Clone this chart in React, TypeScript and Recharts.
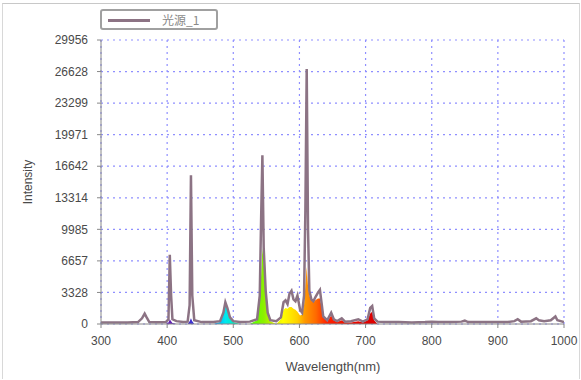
import React from 'react';
import { ComposedChart, Area, Line, XAxis, YAxis, CartesianGrid } from 'recharts';

const wavelengths = [300, 320, 340, 356, 362, 366, 369, 373, 385, 398, 402, 404, 406, 408, 414, 424, 431, 434, 436, 438, 441, 452, 470, 480, 485, 488, 491, 495, 500, 510, 525, 536, 540, 542, 544, 546, 549, 552, 556, 565, 572, 576, 579, 582, 585, 588, 591, 594, 597, 601, 604, 607, 609, 611, 613, 615, 618, 621, 624, 628, 631, 633, 636, 642, 648, 652, 657, 664, 669, 678, 689, 696, 703, 707, 710, 713, 718, 730, 750, 770, 790, 800, 810, 830, 845, 850, 855, 870, 890, 900, 915, 925, 930, 935, 950, 958, 962, 970, 980, 987, 990, 995, 1000];

const intensity = [150, 160, 170, 200, 600, 1100, 700, 200, 180, 200, 500, 7300, 3000, 500, 300, 200, 250, 2000, 15700, 3000, 400, 200, 200, 300, 1200, 2300, 1700, 700, 300, 200, 250, 500, 3000, 10800, 17800, 8000, 3500, 1200, 400, 300, 700, 2300, 2500, 2100, 3200, 3500, 2600, 2400, 3000, 1500, 1200, 3000, 12000, 26900, 10000, 3500, 2600, 2400, 2800, 3300, 3600, 2500, 800, 400, 1200, 500, 300, 600, 250, 300, 500, 250, 500, 1700, 1900, 600, 250, 200, 200, 150, 200, 250, 200, 200, 250, 350, 200, 200, 200, 200, 200, 300, 500, 250, 300, 600, 400, 300, 400, 800, 400, 300, 200];

const fillLevel = [0, 0, 0, 0, 0, 0, 0, 0, 0, 0, 150, 500, 300, 100, 0, 0, 0, 300, 600, 300, 0, 0, 0, 200, 1100, 2200, 1600, 600, 200, 0, 0, 400, 2500, 5000, 8000, 6500, 3000, 1100, 300, 0, 500, 1500, 1700, 1600, 1800, 1800, 1600, 1500, 1300, 900, 1000, 2000, 4000, 6000, 4000, 3000, 2500, 2300, 2500, 2700, 2700, 2000, 700, 300, 900, 400, 200, 400, 150, 150, 300, 150, 400, 1100, 1300, 400, 0, 0, 0, 0, 0, 0, 0, 0, 0, 0, 0, 0, 0, 0, 0, 0, 0, 0, 0, 0, 0, 0, 0, 0, 0, 0, 0];

const xTicks = [300, 400, 500, 600, 700, 800, 900, 1000];
const yTicks = [0, 3328, 6657, 9985, 13314, 16642, 19971, 23299, 26628, 29956];
const xMinorTicks = Array.from({ length: 36 }, (_, i) => 300 + i * 20);
const yMinorTicks = Array.from({ length: 46 }, (_, i) => (29956 / 45) * i);
const seriesName = '光源_1';

const spectrumStops: [number, string][] = [
  [300, '#5a1a8a'], [400, '#6a1fb0'], [436, '#4030d0'], [470, '#0090ff'], [488, '#00e8f0'],
  [510, '#00f0a0'], [530, '#60ff00'], [546, '#8cf000'], [562, '#d8f000'], [575, '#ffff00'],
  [597, '#ffd000'], [608, '#ff9a00'], [625, '#ff6a00'], [642, '#ff2000'], [700, '#e00000'], [1000, '#c00000'],
];

const data = wavelengths.map((w, i) => ({ w, v: intensity[i], f: fillLevel[i] }));

const font = '"Liberation Sans", Arial, sans-serif';
const tickStyle = { fontSize: 12, fill: '#4a4a4a', fontFamily: font };
const lineColor = '#8c7384';
const frameColor = '#888';

export default function App() {
  return (
    <div style={{ position: 'fixed', left: 0, top: 0, width: 581, height: 380, background: '#fff' }}>
      <div style={{ position: 'absolute', left: 2, top: 3, width: 576, height: 375, borderTop: '1px solid #c8c8c8', borderLeft: '1px solid #d8d8d8', borderRight: '1px solid #d8d8d8' }} />
      <ComposedChart width={581} height={380} data={data} margin={{ top: 40, right: 17, bottom: 0, left: 0 }}>
        <defs>
          <linearGradient id="spec" x1="0" y1="0" x2="1" y2="0">
            {spectrumStops.map(([nm, c]) => (
              <stop key={nm} offset={(nm - 300) / 700} stopColor={c} />
            ))}
          </linearGradient>
        </defs>
        <CartesianGrid stroke="#8f8fff" strokeDasharray="2 4" strokeWidth={1.2} />
        <XAxis dataKey="w" type="number" domain={[300, 1000]} ticks={xTicks} height={56} tick={tickStyle}
          tickSize={4} tickMargin={8} stroke={frameColor} interval={0} allowDataOverflow />
        <XAxis xAxisId="bm" dataKey="w" type="number" domain={[300, 1000]} ticks={xMinorTicks} height={0}
          tickFormatter={() => ''} tickSize={3} axisLine={false} stroke={frameColor} interval={0} allowDataOverflow />
        <XAxis xAxisId="top" orientation="top" dataKey="w" type="number" domain={[300, 1000]} ticks={xMinorTicks} height={0}
          tickFormatter={() => ''} tickSize={3} stroke={frameColor} interval={0} allowDataOverflow />
        <YAxis yAxisId="lm" type="number" domain={[0, 29956]} ticks={yMinorTicks} width={0}
          tickFormatter={() => ''} tickSize={3} axisLine={false} stroke={frameColor} interval={0} allowDataOverflow />
        <YAxis type="number" domain={[0, 29956]} ticks={yTicks} width={101} tick={tickStyle}
          tickSize={4} tickMargin={9} stroke={frameColor} interval={0} allowDataOverflow />
        <YAxis yAxisId="right" orientation="right" type="number" domain={[0, 29956]} ticks={yMinorTicks} width={0}
          tickFormatter={() => ''} tickSize={3} stroke={frameColor} interval={0} allowDataOverflow />
        <Area dataKey="f" type="linear" stroke="none" fill="url(#spec)" fillOpacity={1} isAnimationActive={false} />
        <Line dataKey="v" type="linear" stroke={lineColor} strokeWidth={2.5} dot={false} isAnimationActive={false} name={seriesName} />
      </ComposedChart>
      <div style={{ position: 'absolute', left: 100, top: 9, width: 114, height: 17, border: '2px solid #a0a0a0', borderRadius: 3, boxSizing: 'content-box' }}>
        <div style={{ position: 'absolute', left: 6, top: 8, width: 42, height: 3, background: lineColor }} />
        <div style={{ position: 'absolute', left: 60, top: 0, fontSize: 12, lineHeight: '17px', color: '#8a8a8a', fontFamily: '"Noto Sans CJK SC", sans-serif' }}>{seriesName}</div>
      </div>
      <div style={{ position: 'absolute', left: 28, top: 182, transform: 'translate(-50%, -50%) rotate(-90deg)', fontSize: 12, color: '#4a4a4a', fontFamily: font, whiteSpace: 'nowrap' }}>Intensity</div>
      <div style={{ position: 'absolute', left: 333, top: 366, transform: 'translate(-50%, -50%)', fontSize: 13, color: '#4a4a4a', fontFamily: font, whiteSpace: 'nowrap' }}>Wavelength(nm)</div>
    </div>
  );
}
